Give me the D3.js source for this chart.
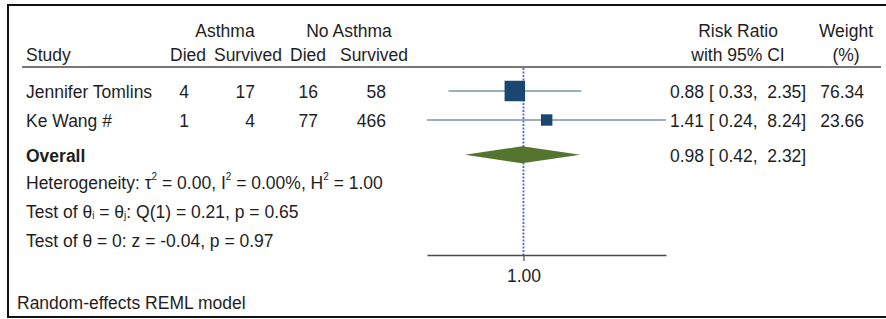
<!DOCTYPE html>
<html><head><meta charset="utf-8">
<script src="https://cdn.jsdelivr.net/npm/d3@7"></script>
<style>
html,body{margin:0;padding:0;background:#fff;}
svg{display:block;}
text{font-family:"Liberation Sans",Arial,sans-serif;font-size:17.5px;fill:#1e1e1e;white-space:pre;}
</style></head>
<body>
<svg id="chart" width="886" height="319"></svg>
<script>
// ---- data ----
const studies = ["Jennifer Tomlins", "Ke Wang #"];
const asthmaDied = [4, 1];
const asthmaSurvived = [17, 4];
const noAsthmaDied = [16, 77];
const noAsthmaSurvived = [58, 466];
const riskRatio = [0.88, 1.41];
const ciLow = [0.33, 0.24];
const ciHigh = [2.35, 8.24];
const weights = [76.34, 23.66];
const overallRR = 0.98, overallLow = 0.42, overallHigh = 2.32;
const axisTicks = [1];
const fmt = d3.format(".2f");

const svg = d3.select("#chart");

// frame
svg.append("rect").attr("x", 8).attr("y", 5).attr("width", 900).attr("height", 312)
  .attr("fill", "none").attr("stroke", "#111").attr("stroke-width", 2);

const x = d3.scaleLog().domain([0.24, 8.24]).range([427, 666]);
const y = d3.scaleLinear().domain([0, 1]).range([91, 120]);
const size = d3.scaleSqrt().domain([0, d3.max(weights)]).range([0, 20.5]);
const yOverall = y(2.2);
const yHeader = 67, yAxis = 255;

function txt(xp, yp, s, anchor, weight) {
  return svg.append("text").attr("x", xp).attr("y", yp).attr("text-anchor", anchor || "start")
    .attr("font-weight", weight || null).text(s);
}
// header texts
txt(225, 37, "Asthma", "middle");
txt(349, 37, "No Asthma", "middle");
txt(26, 61, "Study");
txt(188, 61, "Died", "middle");
txt(248, 61, "Survived", "middle");
txt(308, 61, "Died", "middle");
txt(374, 61, "Survived", "middle");
txt(738, 37, "Risk Ratio", "middle");
txt(738, 61, "with 95% CI", "middle");
txt(846, 37, "Weight", "middle");
txt(846, 61, "(%)", "middle");

svg.append("line").attr("x1", 22).attr("x2", 881).attr("y1", yHeader).attr("y2", yHeader)
  .attr("stroke", "#4a4a4a").attr("stroke-width", 1.6);

// reference line at 1
svg.append("line").attr("x1", x(1)).attr("x2", x(1)).attr("y1", yHeader + 1).attr("y2", yAxis)
  .attr("stroke", "#4f60e6").attr("stroke-width", 1.8).attr("stroke-dasharray", "2,1.5");

// axis
const axis = d3.axisBottom(x).tickValues(axisTicks).tickFormat(fmt).tickSize(6).tickSizeOuter(0);
const gAxis = svg.append("g").attr("transform", `translate(0,${yAxis})`).call(axis);
gAxis.select(".domain").attr("stroke", "#4a4a4a").attr("stroke-width", 1.3);
gAxis.selectAll(".tick line").attr("stroke", "#4a4a4a").attr("stroke-width", 1.2);
gAxis.selectAll(".tick text").attr("font-size", "17.5px").attr("font-family", "Liberation Sans, Arial, sans-serif")
  .attr("fill", "#1e1e1e").attr("y", 15).attr("dy", "0.71em");

// study rows
studies.forEach((s, i) => {
  const yy = y(i);
  const base = yy + 7;
  txt(26, base, s);
  txt(189, base, String(asthmaDied[i]), "end");
  txt(255, base, String(asthmaSurvived[i]), "end");
  txt(318, base, String(noAsthmaDied[i]), "end");
  txt(386, base, String(noAsthmaSurvived[i]), "end");
  txt(670, base, `${fmt(riskRatio[i])} [ ${fmt(ciLow[i])},  ${fmt(ciHigh[i])}]`);
  txt(864, base, fmt(weights[i]), "end");
  svg.append("line").attr("x1", x(ciLow[i])).attr("x2", x(ciHigh[i])).attr("y1", yy).attr("y2", yy)
    .attr("stroke", "#7a95ab").attr("stroke-width", 1.6);
  const sz = size(weights[i]);
  svg.append("rect").attr("x", x(riskRatio[i]) - sz / 2).attr("y", yy - sz / 2)
    .attr("width", sz).attr("height", sz).attr("fill", "#1a476f");
});

// overall
txt(26, yOverall + 7, "Overall", "start", "bold");
txt(670, yOverall + 7, `${fmt(overallRR)} [ ${fmt(overallLow)},  ${fmt(overallHigh)}]`);
const dh = 8.5;
svg.append("path")
  .attr("d", `M${x(overallLow)},${yOverall} L${x(overallRR)},${yOverall - dh} L${x(overallHigh)},${yOverall} L${x(overallRR)},${yOverall + dh} Z`)
  .attr("fill", "#55752f");

// stats
const t1 = svg.append("text").attr("x", 26).attr("y", 189);
t1.append("tspan").text("Heterogeneity: τ");
t1.append("tspan").attr("font-size", "10px").attr("dy", -9).text("2");
t1.append("tspan").attr("dy", 9).text(" = 0.00, I");
t1.append("tspan").attr("font-size", "10px").attr("dy", -9).text("2");
t1.append("tspan").attr("dy", 9).text(" = 0.00%, H");
t1.append("tspan").attr("font-size", "10px").attr("dy", -9).text("2");
t1.append("tspan").attr("dy", 9).text(" = 1.00");

const t2 = svg.append("text").attr("x", 26).attr("y", 218);
t2.append("tspan").text("Test of θ");
t2.append("tspan").attr("font-size", "10px").attr("dy", 1).text("i");
t2.append("tspan").attr("dy", -1).text(" = θ");
t2.append("tspan").attr("font-size", "10px").attr("dy", 1).text("j");
t2.append("tspan").attr("dy", -1).text(": Q(1) = 0.21, p = 0.65");

txt(26, 247, "Test of θ = 0: z = -0.04, p = 0.97");
txt(17, 309, "Random-effects REML model");
</script>
</body></html>
